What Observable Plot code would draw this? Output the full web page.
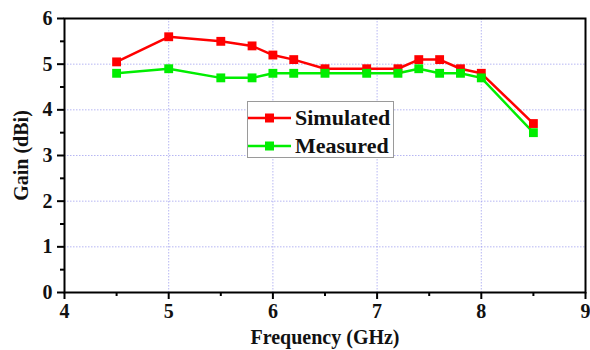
<!DOCTYPE html>
<html>
<head>
<meta charset="utf-8">
<script src="https://cdn.jsdelivr.net/npm/d3@7"></script>
<script src="https://cdn.jsdelivr.net/npm/@observablehq/plot@0.6"></script>
<style>
  html, body { margin: 0; padding: 0; background: #fff; }
  #wrap { position: relative; width: 590px; height: 350px; }
  #chart svg, #chart svg text { font-family: "Liberation Serif", "DejaVu Serif", serif !important; font-weight: bold; }
  #legend {
    position: absolute; left: 247px; top: 101px; width: 147px; height: 57px;
    border: 1.5px solid #9a9a9a; background: #fff; box-sizing: border-box;
    font-family: "Liberation Serif", "DejaVu Serif", serif; font-weight: bold; font-size: 22px;
  }
  #legend .row { position: absolute; left: 0; height: 28px; display: flex; align-items: center; }
  #legend svg { display: block; }
  #legend span { margin-left: 4px; color: #111; }
</style>
</head>
<body>
<div id="wrap">
  <div id="chart"></div>
  <div id="legend"></div>
</div>
<script>
// Frequency sweep points (GHz)
const frequency = [4.5, 5.0, 5.5, 5.8, 6.0, 6.2, 6.5, 6.9, 7.2, 7.4, 7.6, 7.8, 8.0, 8.5];
// Gain values (dBi)
const simulated = [5.05, 5.6, 5.5, 5.4, 5.2, 5.1, 4.9, 4.9, 4.9, 5.1, 5.1, 4.9, 4.8, 3.7];
const measured  = [4.8, 4.9, 4.7, 4.7, 4.8, 4.8, 4.8, 4.8, 4.8, 4.9, 4.8, 4.8, 4.7, 3.5];

const seriesNames = ["Simulated", "Measured"];
const seriesColors = ["#ff0000", "#00ee00"];

const xTicks = [4, 5, 6, 7, 8, 9];
const xMinor = [4.5, 5.5, 6.5, 7.5, 8.5];
const yTicks = [0, 1, 2, 3, 4, 5, 6];
const yMinor = [0.5, 1.5, 2.5, 3.5, 4.5, 5.5];

const rows = [];
frequency.forEach((f, i) => {
  rows.push({series: seriesNames[0], f, g: simulated[i]});
  rows.push({series: seriesNames[1], f, g: measured[i]});
});

const chart = Plot.plot({
  width: 590,
  height: 350,
  marginLeft: 64,
  marginRight: 5,
  marginTop: 18,
  marginBottom: 58,
  style: {fontSize: "21px", color: "#111", background: "#fff"},
  x: {domain: [4, 9], axis: null, label: null},
  y: {domain: [0, 6], axis: null, label: null},
  color: {domain: seriesNames, range: seriesColors},
  marks: [
    Plot.gridX(xTicks.slice(1, -1), {stroke: "#9999ee", strokeOpacity: 0.7, strokeDasharray: "1.5,1.5", strokeWidth: 1}),
    Plot.gridY(yTicks.slice(1, -1), {stroke: "#9999ee", strokeOpacity: 0.7, strokeDasharray: "1.5,1.5", strokeWidth: 1}),
    Plot.axisX(xMinor, {tickSize: 4, tickFormat: () => "", label: null, strokeWidth: 2, stroke: "#000"}),
    Plot.axisY(yMinor, {tickSize: 4, tickFormat: () => "", label: null, strokeWidth: 2, stroke: "#000"}),
    Plot.axisX(xTicks, {
      tickSize: 7, tickPadding: 4, strokeWidth: 2, stroke: "#000",
      label: "Frequency (GHz)", labelAnchor: "center", labelOffset: 51, labelArrow: "none",
      fontSize: 20
    }),
    Plot.axisY(yTicks, {
      tickSize: 7, tickPadding: 5, strokeWidth: 2, stroke: "#000",
      label: "Gain (dBi)", labelAnchor: "center", labelOffset: 51, labelArrow: "none",
      fontSize: 20
    }),
    Plot.frame({stroke: "#000", strokeWidth: 2}),
    Plot.line(rows, {x: "f", y: "g", stroke: "series", z: "series", strokeWidth: 2.5}),
    Plot.dot(rows, {x: "f", y: "g", fill: "series", symbol: "square", r: 5})
  ]
});
document.getElementById("chart").appendChild(chart);

// Legend box
const legend = document.getElementById("legend");
seriesNames.forEach((name, i) => {
  const row = document.createElement("div");
  row.className = "row";
  row.style.top = (i === 0 ? 2 : 30) + "px";
  const c = seriesColors[i];
  row.innerHTML =
    `<svg width="43" height="14"><line x1="0" x2="43" y1="7" y2="7" stroke="${c}" stroke-width="2.5"/>` +
    `<rect x="17" y="2.5" width="9" height="9" fill="${c}"/></svg><span>${name}</span>`;
  legend.appendChild(row);
});
</script>
</body>
</html>
